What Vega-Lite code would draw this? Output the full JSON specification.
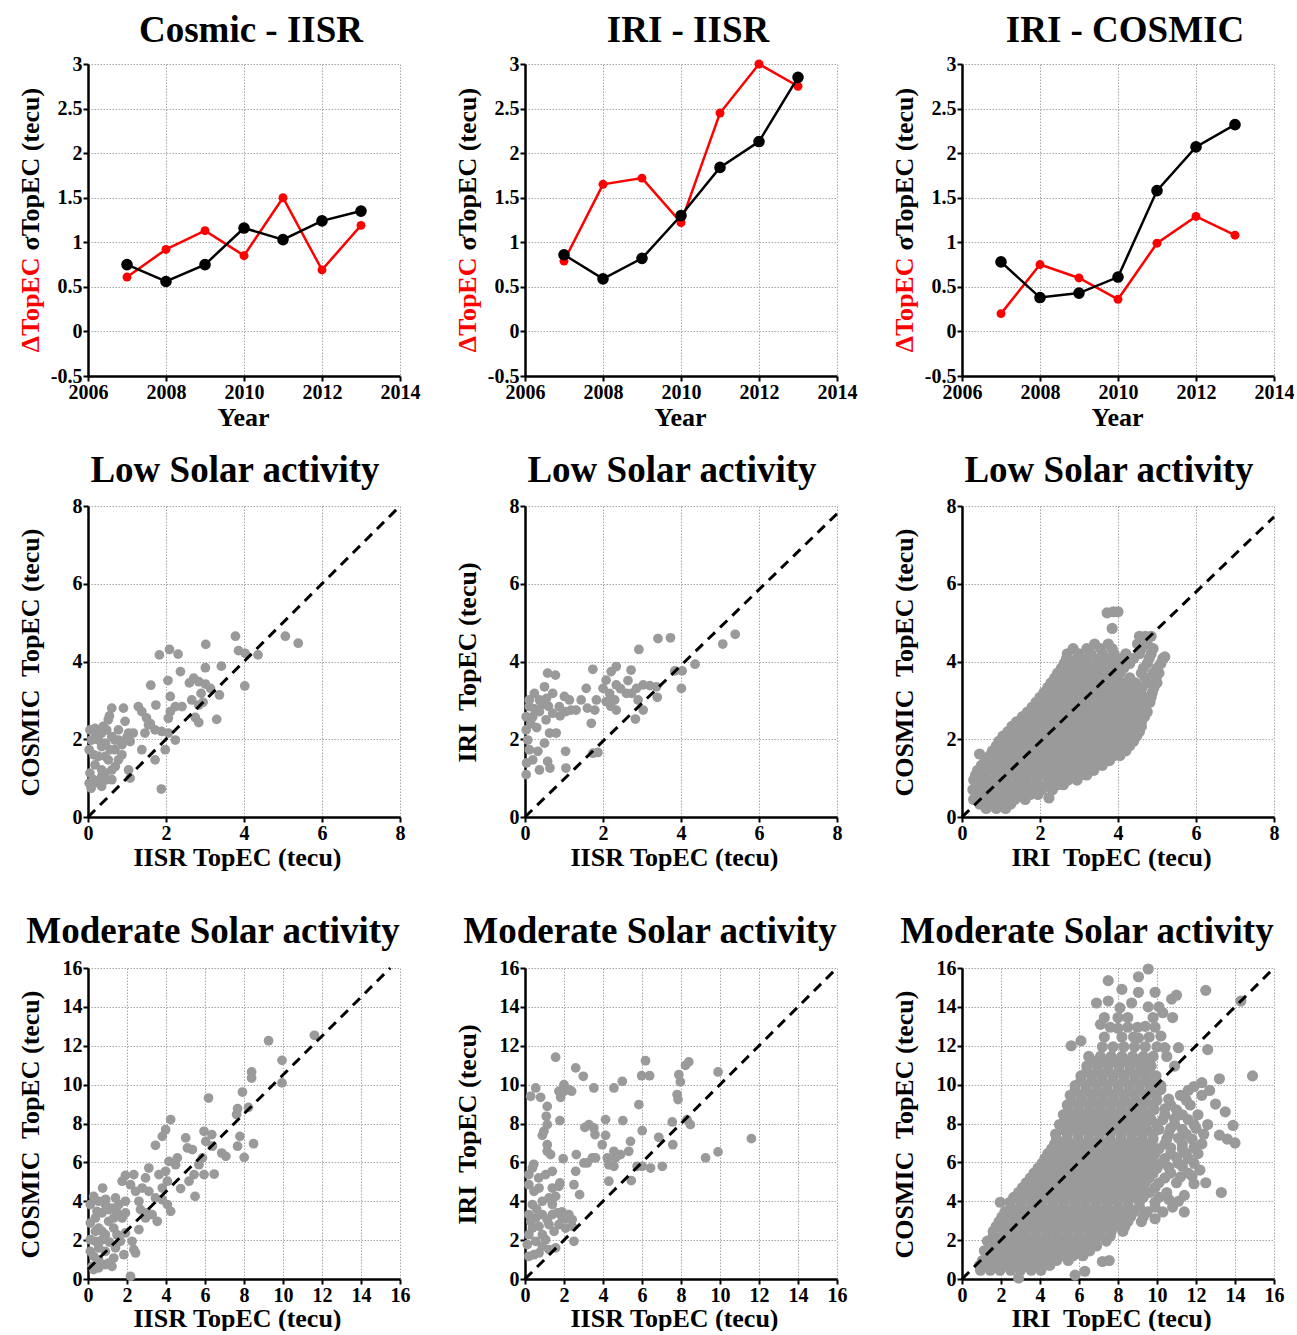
{
"$schema":"https://vega.github.io/schema/vega-lite/v6.json",
"background":"white",
"padding":{"left":16,"top":12,"right":0,"bottom":0},
"spacing":22,
"config":{
"view":{"stroke":null},
"font":"Liberation Serif",
"axis":{"labelFont":"Liberation Serif","labelFontWeight":"bold","labelFontSize":20,"labelColor":"black","labelPadding":1,"labelFlush":false,"labelOverlap":false,
"titleFont":"Liberation Serif","titleFontWeight":"bold","titleFontSize":26,"titleColor":"black",
"domainColor":"black","domainWidth":2.5,"tickColor":"black","tickWidth":2,"tickSize":5,
"gridColor":"#a8a8a8","gridDash":[1.5,1.5],"gridWidth":1},
"title":{"font":"Liberation Serif","fontWeight":"bold","fontSize":37,"color":"black","baseline":"alphabetic","frame":"group","anchor":"middle"}
},
"datasets":{
"trend":[
{"p":"CI","s":"d","yr":2007,"v":0.61},{"p":"CI","s":"d","yr":2008,"v":0.92},{"p":"CI","s":"d","yr":2009,"v":1.13},{"p":"CI","s":"d","yr":2010,"v":0.85},{"p":"CI","s":"d","yr":2011,"v":1.5},{"p":"CI","s":"d","yr":2012,"v":0.69},{"p":"CI","s":"d","yr":2013,"v":1.19},
{"p":"CI","s":"s","yr":2007,"v":0.75},{"p":"CI","s":"s","yr":2008,"v":0.56},{"p":"CI","s":"s","yr":2009,"v":0.75},{"p":"CI","s":"s","yr":2010,"v":1.16},{"p":"CI","s":"s","yr":2011,"v":1.03},{"p":"CI","s":"s","yr":2012,"v":1.24},{"p":"CI","s":"s","yr":2013,"v":1.35},
{"p":"II","s":"d","yr":2007,"v":0.79},{"p":"II","s":"d","yr":2008,"v":1.65},{"p":"II","s":"d","yr":2009,"v":1.72},{"p":"II","s":"d","yr":2010,"v":1.22},{"p":"II","s":"d","yr":2011,"v":2.45},{"p":"II","s":"d","yr":2012,"v":3.0},{"p":"II","s":"d","yr":2013,"v":2.75},
{"p":"II","s":"s","yr":2007,"v":0.86},{"p":"II","s":"s","yr":2008,"v":0.59},{"p":"II","s":"s","yr":2009,"v":0.82},{"p":"II","s":"s","yr":2010,"v":1.3},{"p":"II","s":"s","yr":2011,"v":1.84},{"p":"II","s":"s","yr":2012,"v":2.13},{"p":"II","s":"s","yr":2013,"v":2.85},
{"p":"IC","s":"d","yr":2007,"v":0.2},{"p":"IC","s":"d","yr":2008,"v":0.75},{"p":"IC","s":"d","yr":2009,"v":0.6},{"p":"IC","s":"d","yr":2010,"v":0.36},{"p":"IC","s":"d","yr":2011,"v":0.99},{"p":"IC","s":"d","yr":2012,"v":1.29},{"p":"IC","s":"d","yr":2013,"v":1.08},
{"p":"IC","s":"s","yr":2007,"v":0.78},{"p":"IC","s":"s","yr":2008,"v":0.38},{"p":"IC","s":"s","yr":2009,"v":0.43},{"p":"IC","s":"s","yr":2010,"v":0.61},{"p":"IC","s":"s","yr":2011,"v":1.58},{"p":"IC","s":"s","yr":2012,"v":2.07},{"p":"IC","s":"s","yr":2013,"v":2.32}
],
"lowA":[
{"x":5.06,"y":4.65},{"x":5.39,"y":4.47},{"x":3.78,"y":4.65},{"x":3.86,"y":4.28},{"x":4.03,"y":4.21},{"x":4.36,"y":4.17},{"x":4.02,"y":3.37},{"x":3.02,"y":4.44},{"x":2.09,"y":4.31},{"x":2.31,"y":4.19},{"x":1.83,"y":4.17},{"x":2.37,"y":3.74},{"x":2.05,"y":3.51},{"x":1.61,"y":3.39},{"x":3.01,"y":3.84},{"x":3.42,"y":3.88},{"x":2.71,"y":3.57},{"x":2.84,"y":3.48},{"x":3.01,"y":3.42},{"x":3.14,"y":3.31},{"x":3.37,"y":3.14},{"x":2.9,"y":3.18},{"x":2.66,"y":3.01},{"x":2.84,"y":2.88},{"x":2.11,"y":3.1},{"x":3.3,"y":2.51},{"x":2.75,"y":2.56},{"x":2.84,"y":2.43},{"x":2.41,"y":2.84},{"x":2.24,"y":2.84},{"x":2.11,"y":2.71},{"x":2.06,"y":2.54},{"x":1.74,"y":2.88},{"x":1.29,"y":2.84},{"x":1.38,"y":2.71},{"x":1.55,"y":2.37},{"x":1.46,"y":2.16},{"x":1.72,"y":2.24},{"x":1.89,"y":2.2},{"x":2.06,"y":2.16},{"x":2.24,"y":1.98},{"x":1.98,"y":1.73},{"x":1.72,"y":1.47},{"x":1.38,"y":1.73},{"x":1.88,"y":0.72},{"x":1.04,"y":1.21},{"x":1.08,"y":1.0},{"x":0.61,"y":2.8},{"x":0.91,"y":2.8},{"x":0.95,"y":2.46},{"x":0.78,"y":2.24},{"x":1.04,"y":2.16},{"x":1.08,"y":1.94},{"x":0.69,"y":1.98},{"x":0.57,"y":1.73},{"x":0.52,"y":1.47},{"x":0.78,"y":1.47},{"x":0.35,"y":2.16},{"x":0.18,"y":2.28},{"x":0.05,"y":2.24},{"x":0.09,"y":1.98},{"x":0.03,"y":1.73},{"x":0.35,"y":1.81},{"x":0.44,"y":1.56},{"x":0.35,"y":1.21},{"x":0.18,"y":1.34},{"x":0.05,"y":1.13},{"x":0.03,"y":0.87},{"x":0.08,"y":0.74},{"x":0.27,"y":0.87},{"x":0.35,"y":0.79},{"x":0.48,"y":0.96},{"x":0.61,"y":0.96},{"x":0.61,"y":1.21},{"x":0.52,"y":2.5},{"x":0.48,"y":2.24},{"x":0.69,"y":1.73},{"x":0.87,"y":1.86},{"x":1.16,"y":2.16},{"x":0.61,"y":2.07},{"x":0.27,"y":1.98},{"x":0.39,"y":2.33},{"x":0.78,"y":1.98},{"x":0.27,"y":1.56},{"x":0.44,"y":1.13},{"x":0.87,"y":1.6},{"x":0.35,"y":1.04},{"x":0.14,"y":0.96},{"x":0.55,"y":2.6},{"x":0.2,"y":2.1},{"x":0.45,"y":1.9},{"x":0.7,"y":1.3},{"x":0.15,"y":1.6},{"x":1.6,"y":2.4},{"x":1.5,"y":2.55},{"x":2.6,"y":3.45},{"x":2.95,"y":2.95},{"x":1.0,"y":2.05}
],
"lowB":[
{"x":5.39,"y":4.7},{"x":5.07,"y":4.45},{"x":3.41,"y":4.59},{"x":3.73,"y":4.61},{"x":2.92,"y":4.31},{"x":4.36,"y":3.93},{"x":3.84,"y":3.76},{"x":4.03,"y":3.76},{"x":4.01,"y":3.31},{"x":3.39,"y":3.08},{"x":3.03,"y":2.75},{"x":2.83,"y":2.52},{"x":2.72,"y":3.78},{"x":2.64,"y":3.51},{"x":2.73,"y":3.18},{"x":2.9,"y":3.01},{"x":3.03,"y":3.4},{"x":3.2,"y":3.38},{"x":3.37,"y":3.35},{"x":2.86,"y":3.31},{"x":2.34,"y":3.87},{"x":2.21,"y":3.74},{"x":2.08,"y":3.52},{"x":2.0,"y":3.31},{"x":2.17,"y":3.18},{"x":2.3,"y":3.01},{"x":2.08,"y":2.97},{"x":2.34,"y":2.75},{"x":1.74,"y":3.8},{"x":1.57,"y":3.31},{"x":1.83,"y":3.01},{"x":1.79,"y":2.75},{"x":1.7,"y":2.41},{"x":1.31,"y":2.75},{"x":1.18,"y":2.75},{"x":1.01,"y":3.1},{"x":0.88,"y":2.84},{"x":0.71,"y":3.18},{"x":0.58,"y":3.7},{"x":0.5,"y":3.35},{"x":0.37,"y":3.01},{"x":0.11,"y":2.84},{"x":0.03,"y":2.58},{"x":0.2,"y":2.58},{"x":0.37,"y":2.71},{"x":0.54,"y":2.5},{"x":0.71,"y":2.67},{"x":0.8,"y":2.16},{"x":0.63,"y":2.16},{"x":0.5,"y":1.9},{"x":0.33,"y":1.69},{"x":0.11,"y":1.73},{"x":0.03,"y":2.24},{"x":0.07,"y":1.98},{"x":0.04,"y":1.39},{"x":0.03,"y":1.09},{"x":0.2,"y":1.47},{"x":0.37,"y":1.21},{"x":0.58,"y":1.43},{"x":0.64,"y":1.26},{"x":1.04,"y":1.69},{"x":1.05,"y":1.26},{"x":1.74,"y":1.64},{"x":1.87,"y":1.66},{"x":0.78,"y":3.65},{"x":0.11,"y":3.01},{"x":0.24,"y":3.18},{"x":1.14,"y":3.01},{"x":1.05,"y":2.71},{"x":1.44,"y":3.01},{"x":2.34,"y":3.4},{"x":2.6,"y":3.18},{"x":0.45,"y":2.9},{"x":0.6,"y":2.85},{"x":0.25,"y":2.78},{"x":0.9,"y":2.6},{"x":1.6,"y":2.8},{"x":2.2,"y":2.85},{"x":2.45,"y":3.3},{"x":0.15,"y":2.4},{"x":0.3,"y":2.3},{"x":0.55,"y":3.05}
],
"lowC":[
{"x":0.62,"y":0.22},{"x":0.88,"y":0.22},{"x":1.12,"y":0.22},
{"x":0.45,"y":0.33},{"x":0.72,"y":0.33},{"x":0.98,"y":0.33},{"x":1.25,"y":0.33},
{"x":0.3,"y":0.45},{"x":0.55,"y":0.45},{"x":0.82,"y":0.45},{"x":1.08,"y":0.45},{"x":1.35,"y":0.45},{"x":1.62,"y":0.45},
{"x":0.42,"y":0.58},{"x":0.68,"y":0.58},{"x":0.95,"y":0.58},{"x":1.2,"y":0.58},{"x":1.48,"y":0.58},{"x":1.75,"y":0.58},{"x":1.95,"y":0.58},
{"x":0.28,"y":0.7},{"x":0.5,"y":0.7},{"x":0.75,"y":0.7},{"x":1.0,"y":0.7},{"x":1.27,"y":0.7},{"x":1.52,"y":0.7},{"x":1.8,"y":0.7},{"x":2.05,"y":0.7},{"x":2.32,"y":0.7},
{"x":0.38,"y":0.83},{"x":0.62,"y":0.83},{"x":0.88,"y":0.83},{"x":1.15,"y":0.83},{"x":1.4,"y":0.83},{"x":1.66,"y":0.83},{"x":1.92,"y":0.83},{"x":2.18,"y":0.83},{"x":2.45,"y":0.83},{"x":2.6,"y":0.83},
{"x":0.3,"y":0.95},{"x":0.58,"y":0.95},{"x":0.85,"y":0.95},{"x":1.12,"y":0.95},{"x":1.4,"y":0.95},{"x":1.65,"y":0.95},{"x":1.92,"y":0.95},{"x":2.2,"y":0.95},{"x":2.45,"y":0.95},{"x":2.72,"y":0.95},{"x":2.95,"y":0.95},
{"x":0.35,"y":1.08},{"x":0.62,"y":1.08},{"x":0.9,"y":1.08},{"x":1.18,"y":1.08},{"x":1.45,"y":1.08},{"x":1.72,"y":1.08},{"x":1.98,"y":1.08},{"x":2.25,"y":1.08},{"x":2.52,"y":1.08},{"x":2.78,"y":1.08},{"x":3.05,"y":1.08},{"x":3.2,"y":1.08},
{"x":0.4,"y":1.2},{"x":0.68,"y":1.2},{"x":0.95,"y":1.2},{"x":1.22,"y":1.2},{"x":1.5,"y":1.2},{"x":1.78,"y":1.2},{"x":2.05,"y":1.2},{"x":2.3,"y":1.2},{"x":2.58,"y":1.2},{"x":2.85,"y":1.2},{"x":3.1,"y":1.2},{"x":3.38,"y":1.2},
{"x":0.5,"y":1.33},{"x":0.78,"y":1.33},{"x":1.05,"y":1.33},{"x":1.32,"y":1.33},{"x":1.6,"y":1.33},{"x":1.85,"y":1.33},{"x":2.12,"y":1.33},{"x":2.4,"y":1.33},{"x":2.65,"y":1.33},{"x":2.92,"y":1.33},{"x":3.2,"y":1.33},{"x":3.45,"y":1.33},{"x":3.6,"y":1.33},
{"x":0.6,"y":1.45},{"x":0.85,"y":1.45},{"x":1.1,"y":1.45},{"x":1.38,"y":1.45},{"x":1.65,"y":1.45},{"x":1.92,"y":1.45},{"x":2.18,"y":1.45},{"x":2.45,"y":1.45},{"x":2.72,"y":1.45},{"x":3.0,"y":1.45},{"x":3.25,"y":1.45},{"x":3.52,"y":1.45},{"x":3.78,"y":1.45},
{"x":0.72,"y":1.58},{"x":0.98,"y":1.58},{"x":1.25,"y":1.58},{"x":1.52,"y":1.58},{"x":1.78,"y":1.58},{"x":2.05,"y":1.58},{"x":2.32,"y":1.58},{"x":2.58,"y":1.58},{"x":2.85,"y":1.58},{"x":3.12,"y":1.58},{"x":3.38,"y":1.58},{"x":3.65,"y":1.58},{"x":3.9,"y":1.58},{"x":4.05,"y":1.58},
{"x":0.78,"y":1.7},{"x":1.05,"y":1.7},{"x":1.3,"y":1.7},{"x":1.58,"y":1.7},{"x":1.85,"y":1.7},{"x":2.1,"y":1.7},{"x":2.38,"y":1.7},{"x":2.65,"y":1.7},{"x":2.92,"y":1.7},{"x":3.18,"y":1.7},{"x":3.45,"y":1.7},{"x":3.72,"y":1.7},{"x":3.98,"y":1.7},{"x":4.2,"y":1.7},
{"x":0.88,"y":1.83},{"x":1.12,"y":1.83},{"x":1.4,"y":1.83},{"x":1.68,"y":1.83},{"x":1.95,"y":1.83},{"x":2.22,"y":1.83},{"x":2.48,"y":1.83},{"x":2.75,"y":1.83},{"x":3.02,"y":1.83},{"x":3.28,"y":1.83},{"x":3.55,"y":1.83},{"x":3.82,"y":1.83},{"x":4.08,"y":1.83},{"x":4.3,"y":1.83},
{"x":0.95,"y":1.95},{"x":1.2,"y":1.95},{"x":1.48,"y":1.95},{"x":1.75,"y":1.95},{"x":2.02,"y":1.95},{"x":2.28,"y":1.95},{"x":2.55,"y":1.95},{"x":2.82,"y":1.95},{"x":3.08,"y":1.95},{"x":3.35,"y":1.95},{"x":3.62,"y":1.95},{"x":3.88,"y":1.95},{"x":4.15,"y":1.95},{"x":4.4,"y":1.95},
{"x":1.05,"y":2.08},{"x":1.32,"y":2.08},{"x":1.6,"y":2.08},{"x":1.85,"y":2.08},{"x":2.12,"y":2.08},{"x":2.38,"y":2.08},{"x":2.65,"y":2.08},{"x":2.92,"y":2.08},{"x":3.2,"y":2.08},{"x":3.45,"y":2.08},{"x":3.72,"y":2.08},{"x":4.0,"y":2.08},{"x":4.25,"y":2.08},{"x":4.48,"y":2.08},
{"x":1.18,"y":2.2},{"x":1.42,"y":2.2},{"x":1.7,"y":2.2},{"x":1.95,"y":2.2},{"x":2.22,"y":2.2},{"x":2.5,"y":2.2},{"x":2.75,"y":2.2},{"x":3.02,"y":2.2},{"x":3.3,"y":2.2},{"x":3.55,"y":2.2},{"x":3.82,"y":2.2},{"x":4.08,"y":2.2},{"x":4.35,"y":2.2},{"x":4.55,"y":2.2},
{"x":1.3,"y":2.33},{"x":1.55,"y":2.33},{"x":1.82,"y":2.33},{"x":2.08,"y":2.33},{"x":2.35,"y":2.33},{"x":2.62,"y":2.33},{"x":2.88,"y":2.33},{"x":3.15,"y":2.33},{"x":3.42,"y":2.33},{"x":3.68,"y":2.33},{"x":3.95,"y":2.33},{"x":4.2,"y":2.33},{"x":4.48,"y":2.33},{"x":4.6,"y":2.33},
{"x":1.4,"y":2.45},{"x":1.65,"y":2.45},{"x":1.92,"y":2.45},{"x":2.18,"y":2.45},{"x":2.45,"y":2.45},{"x":2.72,"y":2.45},{"x":2.98,"y":2.45},{"x":3.25,"y":2.45},{"x":3.52,"y":2.45},{"x":3.78,"y":2.45},{"x":4.05,"y":2.45},{"x":4.3,"y":2.45},{"x":4.6,"y":2.45},
{"x":1.55,"y":2.58},{"x":1.8,"y":2.58},{"x":2.05,"y":2.58},{"x":2.32,"y":2.58},{"x":2.58,"y":2.58},{"x":2.85,"y":2.58},{"x":3.12,"y":2.58},{"x":3.38,"y":2.58},{"x":3.65,"y":2.58},{"x":3.92,"y":2.58},{"x":4.18,"y":2.58},{"x":4.45,"y":2.58},{"x":4.68,"y":2.58},
{"x":1.68,"y":2.7},{"x":1.92,"y":2.7},{"x":2.2,"y":2.7},{"x":2.45,"y":2.7},{"x":2.72,"y":2.7},{"x":3.0,"y":2.7},{"x":3.25,"y":2.7},{"x":3.52,"y":2.7},{"x":3.78,"y":2.7},{"x":4.05,"y":2.7},{"x":4.32,"y":2.7},{"x":4.6,"y":2.7},{"x":4.75,"y":2.7},
{"x":1.8,"y":2.83},{"x":2.05,"y":2.83},{"x":2.32,"y":2.83},{"x":2.58,"y":2.83},{"x":2.85,"y":2.83},{"x":3.1,"y":2.83},{"x":3.38,"y":2.83},{"x":3.65,"y":2.83},{"x":3.9,"y":2.83},{"x":4.18,"y":2.83},{"x":4.45,"y":2.83},{"x":4.7,"y":2.83},
{"x":1.9,"y":2.95},{"x":2.15,"y":2.95},{"x":2.42,"y":2.95},{"x":2.7,"y":2.95},{"x":2.95,"y":2.95},{"x":3.22,"y":2.95},{"x":3.5,"y":2.95},{"x":3.75,"y":2.95},{"x":4.02,"y":2.95},{"x":4.28,"y":2.95},{"x":4.55,"y":2.95},{"x":4.82,"y":2.95},
{"x":2.0,"y":3.08},{"x":2.28,"y":3.08},{"x":2.55,"y":3.08},{"x":2.8,"y":3.08},{"x":3.08,"y":3.08},{"x":3.35,"y":3.08},{"x":3.6,"y":3.08},{"x":3.88,"y":3.08},{"x":4.15,"y":3.08},{"x":4.4,"y":3.08},{"x":4.7,"y":3.08},{"x":4.85,"y":3.08},
{"x":2.1,"y":3.2},{"x":2.38,"y":3.2},{"x":2.65,"y":3.2},{"x":2.9,"y":3.2},{"x":3.18,"y":3.2},{"x":3.45,"y":3.2},{"x":3.72,"y":3.2},{"x":3.98,"y":3.2},{"x":4.25,"y":3.2},{"x":4.52,"y":3.2},{"x":4.88,"y":3.2},
{"x":2.2,"y":3.33},{"x":2.48,"y":3.33},{"x":2.72,"y":3.33},{"x":3.0,"y":3.33},{"x":3.25,"y":3.33},{"x":3.52,"y":3.33},{"x":3.8,"y":3.33},{"x":4.05,"y":3.33},{"x":4.32,"y":3.33},{"x":4.62,"y":3.33},{"x":4.92,"y":3.33},
{"x":2.28,"y":3.45},{"x":2.55,"y":3.45},{"x":2.82,"y":3.45},{"x":3.08,"y":3.45},{"x":3.35,"y":3.45},{"x":3.62,"y":3.45},{"x":3.9,"y":3.45},{"x":4.15,"y":3.45},{"x":4.45,"y":3.45},{"x":4.75,"y":3.45},{"x":5.0,"y":3.45},
{"x":2.38,"y":3.58},{"x":2.65,"y":3.58},{"x":2.92,"y":3.58},{"x":3.18,"y":3.58},{"x":3.45,"y":3.58},{"x":3.72,"y":3.58},{"x":3.98,"y":3.58},{"x":4.3,"y":3.58},{"x":4.7,"y":3.58},{"x":4.98,"y":3.58},
{"x":2.45,"y":3.7},{"x":2.72,"y":3.7},{"x":3.0,"y":3.7},{"x":3.25,"y":3.7},{"x":3.52,"y":3.7},{"x":3.8,"y":3.7},{"x":4.05,"y":3.7},{"x":4.6,"y":3.7},{"x":4.9,"y":3.7},{"x":5.05,"y":3.7},
{"x":2.55,"y":3.83},{"x":2.82,"y":3.83},{"x":3.08,"y":3.83},{"x":3.35,"y":3.83},{"x":3.62,"y":3.83},{"x":3.88,"y":3.83},{"x":4.15,"y":3.83},{"x":4.65,"y":3.83},{"x":5.0,"y":3.83},
{"x":2.62,"y":3.95},{"x":2.9,"y":3.95},{"x":3.15,"y":3.95},{"x":3.45,"y":3.95},{"x":3.72,"y":3.95},{"x":4.0,"y":3.95},{"x":4.3,"y":3.95},{"x":4.75,"y":3.95},{"x":5.1,"y":3.95},
{"x":2.68,"y":4.08},{"x":2.95,"y":4.08},{"x":3.22,"y":4.08},{"x":3.52,"y":4.08},{"x":3.8,"y":4.08},{"x":4.1,"y":4.08},{"x":4.4,"y":4.08},{"x":4.8,"y":4.08},{"x":5.15,"y":4.08},
{"x":2.7,"y":4.2},{"x":3.0,"y":4.2},{"x":3.3,"y":4.2},{"x":3.6,"y":4.2},{"x":3.9,"y":4.2},{"x":4.2,"y":4.2},{"x":4.55,"y":4.2},{"x":4.85,"y":4.2},{"x":5.2,"y":4.12},
{"x":2.85,"y":4.33},{"x":3.2,"y":4.33},{"x":3.55,"y":4.33},{"x":3.85,"y":4.33},{"x":4.6,"y":4.33},{"x":4.9,"y":4.33},
{"x":3.4,"y":4.45},{"x":3.75,"y":4.45},{"x":4.5,"y":4.45},{"x":4.75,"y":4.45},
{"x":4.55,"y":4.65},{"x":4.7,"y":4.65},{"x":4.85,"y":4.65},
{"x":3.72,"y":5.25},{"x":3.88,"y":5.28},{"x":4.0,"y":5.28},{"x":3.85,"y":4.85},{"x":0.45,"y":1.62},{"x":1.28,"y":2.33},{"x":2.23,"y":0.49}
],
"modA":[
{"x":11.61,"y":12.54},{"x":9.26,"y":12.26},{"x":9.95,"y":11.25},{"x":9.95,"y":10.09},{"x":8.39,"y":10.65},{"x":8.39,"y":10.34},{"x":7.92,"y":9.62},{"x":6.18,"y":9.31},{"x":7.67,"y":8.76},{"x":7.62,"y":8.46},{"x":8.23,"y":8.83},{"x":7.79,"y":7.34},{"x":7.67,"y":6.83},{"x":8.01,"y":6.26},{"x":8.49,"y":6.96},{"x":6.86,"y":6.48},{"x":7.07,"y":6.31},{"x":4.24,"y":8.2},{"x":3.98,"y":7.68},{"x":3.81,"y":7.34},{"x":3.46,"y":6.88},{"x":5.01,"y":7.26},{"x":5.1,"y":6.74},{"x":5.35,"y":6.66},{"x":5.95,"y":7.6},{"x":6.04,"y":7.08},{"x":6.35,"y":7.43},{"x":5.87,"y":6.23},{"x":5.69,"y":5.88},{"x":6.38,"y":6.83},{"x":5.95,"y":5.37},{"x":6.47,"y":5.4},{"x":5.44,"y":5.37},{"x":5.18,"y":5.03},{"x":5.49,"y":4.25},{"x":4.75,"y":4.65},{"x":4.58,"y":6.23},{"x":4.49,"y":5.88},{"x":4.15,"y":6.05},{"x":3.98,"y":5.54},{"x":3.64,"y":5.37},{"x":4.07,"y":5.03},{"x":3.81,"y":4.68},{"x":3.12,"y":5.71},{"x":2.95,"y":5.2},{"x":2.78,"y":4.68},{"x":3.12,"y":4.51},{"x":3.46,"y":4.17},{"x":3.81,"y":4.08},{"x":4.07,"y":3.83},{"x":4.24,"y":3.48},{"x":3.55,"y":2.97},{"x":3.04,"y":3.4},{"x":2.69,"y":3.57},{"x":2.95,"y":3.14},{"x":3.29,"y":3.31},{"x":2.35,"y":5.37},{"x":1.92,"y":5.33},{"x":1.75,"y":5.03},{"x":2.18,"y":4.85},{"x":2.44,"y":4.51},{"x":2.61,"y":4.0},{"x":2.61,"y":2.54},{"x":2.26,"y":1.94},{"x":2.35,"y":1.51},{"x":2.44,"y":1.34},{"x":2.18,"y":0.14},{"x":1.92,"y":4.0},{"x":1.58,"y":3.83},{"x":1.41,"y":4.17},{"x":1.92,"y":3.4},{"x":1.75,"y":3.14},{"x":1.32,"y":2.62},{"x":1.92,"y":2.37},{"x":1.66,"y":1.94},{"x":1.41,"y":1.6},{"x":1.84,"y":1.25},{"x":1.32,"y":1.08},{"x":1.06,"y":0.82},{"x":1.23,"y":0.65},{"x":0.75,"y":4.68},{"x":0.29,"y":4.25},{"x":0.12,"y":3.83},{"x":0.55,"y":4.0},{"x":0.89,"y":3.83},{"x":1.23,"y":3.65},{"x":0.72,"y":3.4},{"x":0.38,"y":3.14},{"x":0.12,"y":2.88},{"x":0.55,"y":2.62},{"x":1.06,"y":2.97},{"x":0.89,"y":2.28},{"x":0.38,"y":1.94},{"x":0.12,"y":2.02},{"x":0.55,"y":1.6},{"x":0.89,"y":1.42},{"x":0.29,"y":1.17},{"x":0.12,"y":1.42},{"x":0.55,"y":0.99},{"x":0.21,"y":0.65},{"x":0.55,"y":0.57},{"x":0.89,"y":0.74},{"x":0.29,"y":0.48},{"x":0.72,"y":2.45},{"x":0.46,"y":3.48},{"x":1.06,"y":3.57},{"x":1.32,"y":3.14},{"x":1.49,"y":2.28},{"x":0.38,"y":2.45},{"x":1.1,"y":1.9},{"x":0.7,"y":2.0},{"x":1.5,"y":3.4},{"x":0.9,"y":4.1}
],
"modB":[
{"x":11.61,"y":7.22},{"x":9.26,"y":6.23},{"x":9.9,"y":6.54},{"x":9.9,"y":10.65},{"x":8.4,"y":11.17},{"x":8.23,"y":10.99},{"x":7.89,"y":10.51},{"x":7.97,"y":10.14},{"x":7.8,"y":9.49},{"x":7.85,"y":9.23},{"x":8.31,"y":8.2},{"x":8.48,"y":7.94},{"x":7.55,"y":8.08},{"x":7.58,"y":6.91},{"x":6.86,"y":7.29},{"x":7.04,"y":5.8},{"x":6.18,"y":11.23},{"x":5.98,"y":10.46},{"x":6.39,"y":10.46},{"x":5.84,"y":8.97},{"x":6.01,"y":7.63},{"x":5.75,"y":5.8},{"x":6.01,"y":5.8},{"x":6.44,"y":5.71},{"x":5.41,"y":7.08},{"x":5.32,"y":6.57},{"x":5.45,"y":5.06},{"x":4.99,"y":10.17},{"x":5.02,"y":8.15},{"x":4.56,"y":9.83},{"x":4.13,"y":8.2},{"x":4.13,"y":7.39},{"x":3.96,"y":6.91},{"x":4.22,"y":6.23},{"x":4.56,"y":6.57},{"x":4.64,"y":6.23},{"x":4.9,"y":6.4},{"x":4.3,"y":5.88},{"x":4.56,"y":5.8},{"x":4.3,"y":5.03},{"x":3.53,"y":9.83},{"x":3.07,"y":7.8},{"x":3.28,"y":7.94},{"x":3.53,"y":7.77},{"x":3.59,"y":7.43},{"x":3.45,"y":6.23},{"x":3.19,"y":5.97},{"x":3.62,"y":6.23},{"x":3.02,"y":5.97},{"x":2.6,"y":10.86},{"x":2.99,"y":10.43},{"x":2.63,"y":6.4},{"x":2.6,"y":5.54},{"x":2.51,"y":4.85},{"x":2.8,"y":4.34},{"x":2.51,"y":1.94},{"x":2.0,"y":9.66},{"x":1.74,"y":9.66},{"x":2.0,"y":10.0},{"x":2.25,"y":9.74},{"x":1.83,"y":9.35},{"x":2.39,"y":9.66},{"x":1.57,"y":11.41},{"x":1.79,"y":8.15},{"x":1.96,"y":6.19},{"x":1.79,"y":4.94},{"x":1.74,"y":4.77},{"x":1.4,"y":5.54},{"x":1.31,"y":6.4},{"x":1.14,"y":6.57},{"x":1.09,"y":8.37},{"x":1.14,"y":8.88},{"x":1.14,"y":7.94},{"x":0.97,"y":7.6},{"x":0.89,"y":7.39},{"x":1.14,"y":6.91},{"x":0.55,"y":9.83},{"x":0.29,"y":9.4},{"x":0.8,"y":9.35},{"x":0.2,"y":5.37},{"x":0.38,"y":5.71},{"x":0.2,"y":4.85},{"x":0.46,"y":4.51},{"x":0.72,"y":4.68},{"x":1.06,"y":5.37},{"x":1.4,"y":4.68},{"x":1.23,"y":4.17},{"x":0.89,"y":4.0},{"x":1.57,"y":4.25},{"x":1.4,"y":3.83},{"x":0.38,"y":3.83},{"x":0.2,"y":3.31},{"x":0.55,"y":3.14},{"x":0.89,"y":3.31},{"x":1.14,"y":3.05},{"x":1.4,"y":3.31},{"x":1.66,"y":3.4},{"x":1.91,"y":3.14},{"x":2.25,"y":3.31},{"x":2.42,"y":3.05},{"x":1.74,"y":2.8},{"x":2.08,"y":2.62},{"x":2.42,"y":2.71},{"x":1.49,"y":2.45},{"x":0.38,"y":2.62},{"x":0.2,"y":2.28},{"x":0.55,"y":1.94},{"x":0.12,"y":1.77},{"x":0.2,"y":1.17},{"x":0.46,"y":1.25},{"x":0.89,"y":1.68},{"x":1.06,"y":2.02},{"x":1.23,"y":1.51},{"x":1.57,"y":1.6},{"x":0.72,"y":1.34},{"x":0.89,"y":2.28},{"x":1.23,"y":2.8},{"x":0.72,"y":2.71},{"x":0.6,"y":3.6},{"x":0.3,"y":2.95},{"x":1.9,"y":3.45},{"x":2.1,"y":3.1},{"x":0.7,"y":5.2},{"x":0.45,"y":5.9}
],
"modC":[
{"x":0.95,"y":0.45},{"x":1.45,"y":0.45},{"x":1.95,"y":0.45},{"x":2.5,"y":0.45},{"x":3.0,"y":0.45},{"x":3.55,"y":0.45},{"x":4.05,"y":0.45},{"x":2.9,"y":0.05},{"x":5.8,"y":0.2},{"x":6.3,"y":0.4},{"x":0.9,"y":0.7},
{"x":1.2,"y":0.7},{"x":1.75,"y":0.7},{"x":2.3,"y":0.7},{"x":2.85,"y":0.7},{"x":3.4,"y":0.7},{"x":3.95,"y":0.7},{"x":4.5,"y":0.7},
{"x":1.05,"y":0.95},{"x":1.55,"y":0.95},{"x":2.1,"y":0.95},{"x":2.65,"y":0.95},{"x":3.2,"y":0.95},{"x":3.75,"y":0.95},{"x":4.3,"y":0.95},{"x":4.85,"y":0.95},{"x":5.45,"y":0.95},{"x":7.2,"y":0.9},{"x":7.55,"y":0.95},
{"x":1.3,"y":1.2},{"x":1.85,"y":1.2},{"x":2.4,"y":1.2},{"x":2.95,"y":1.2},{"x":3.5,"y":1.2},{"x":4.05,"y":1.2},{"x":4.6,"y":1.2},{"x":5.15,"y":1.2},{"x":5.7,"y":1.2},{"x":6.2,"y":1.2},
{"x":1.15,"y":1.45},{"x":1.65,"y":1.45},{"x":2.2,"y":1.45},{"x":2.75,"y":1.45},{"x":3.3,"y":1.45},{"x":3.85,"y":1.45},{"x":4.4,"y":1.45},{"x":4.95,"y":1.45},{"x":5.5,"y":1.45},{"x":6.05,"y":1.45},{"x":6.55,"y":1.45},
{"x":1.45,"y":1.7},{"x":2.0,"y":1.7},{"x":2.55,"y":1.7},{"x":3.1,"y":1.7},{"x":3.65,"y":1.7},{"x":4.2,"y":1.7},{"x":4.75,"y":1.7},{"x":5.3,"y":1.7},{"x":5.85,"y":1.7},{"x":6.4,"y":1.7},{"x":6.9,"y":1.7},
{"x":1.3,"y":1.95},{"x":1.85,"y":1.95},{"x":2.4,"y":1.95},{"x":2.95,"y":1.95},{"x":3.5,"y":1.95},{"x":4.05,"y":1.95},{"x":4.6,"y":1.95},{"x":5.15,"y":1.95},{"x":5.7,"y":1.95},{"x":6.25,"y":1.95},{"x":6.8,"y":1.95},{"x":7.4,"y":1.95},
{"x":1.6,"y":2.2},{"x":2.1,"y":2.2},{"x":2.65,"y":2.2},{"x":3.2,"y":2.2},{"x":3.75,"y":2.2},{"x":4.3,"y":2.2},{"x":4.85,"y":2.2},{"x":5.4,"y":2.2},{"x":5.95,"y":2.2},{"x":6.5,"y":2.2},{"x":7.05,"y":2.2},{"x":7.6,"y":2.2},
{"x":1.6,"y":2.45},{"x":2.15,"y":2.45},{"x":2.7,"y":2.45},{"x":3.25,"y":2.45},{"x":3.8,"y":2.45},{"x":4.35,"y":2.45},{"x":4.9,"y":2.45},{"x":5.45,"y":2.45},{"x":6.0,"y":2.45},{"x":6.55,"y":2.45},{"x":7.1,"y":2.45},{"x":7.65,"y":2.45},{"x":8.25,"y":2.45},
{"x":1.75,"y":2.7},{"x":2.3,"y":2.7},{"x":2.85,"y":2.7},{"x":3.4,"y":2.7},{"x":3.95,"y":2.7},{"x":4.5,"y":2.7},{"x":5.05,"y":2.7},{"x":5.6,"y":2.7},{"x":6.15,"y":2.7},{"x":6.7,"y":2.7},{"x":7.25,"y":2.7},{"x":7.8,"y":2.7},{"x":8.35,"y":2.7},
{"x":1.9,"y":2.95},{"x":2.45,"y":2.95},{"x":3.0,"y":2.95},{"x":3.55,"y":2.95},{"x":4.1,"y":2.95},{"x":4.65,"y":2.95},{"x":5.2,"y":2.95},{"x":5.75,"y":2.95},{"x":6.3,"y":2.95},{"x":6.85,"y":2.95},{"x":7.4,"y":2.95},{"x":7.95,"y":2.95},{"x":8.5,"y":2.95},{"x":9.2,"y":2.95},{"x":9.9,"y":3.1},
{"x":2.05,"y":3.2},{"x":2.6,"y":3.2},{"x":3.15,"y":3.2},{"x":3.7,"y":3.2},{"x":4.25,"y":3.2},{"x":4.8,"y":3.2},{"x":5.35,"y":3.2},{"x":5.9,"y":3.2},{"x":6.45,"y":3.2},{"x":7.0,"y":3.2},{"x":7.55,"y":3.2},{"x":8.1,"y":3.2},{"x":8.65,"y":3.2},{"x":9.3,"y":3.2},
{"x":2.2,"y":3.45},{"x":2.75,"y":3.45},{"x":3.3,"y":3.45},{"x":3.85,"y":3.45},{"x":4.4,"y":3.45},{"x":4.95,"y":3.45},{"x":5.5,"y":3.45},{"x":6.05,"y":3.45},{"x":6.6,"y":3.45},{"x":7.15,"y":3.45},{"x":7.7,"y":3.45},{"x":8.25,"y":3.45},{"x":8.8,"y":3.45},{"x":9.5,"y":3.45},{"x":10.3,"y":3.45},{"x":11.4,"y":3.45},
{"x":2.5,"y":3.7},{"x":3.05,"y":3.7},{"x":3.6,"y":3.7},{"x":4.15,"y":3.7},{"x":4.7,"y":3.7},{"x":5.25,"y":3.7},{"x":5.8,"y":3.7},{"x":6.35,"y":3.7},{"x":6.9,"y":3.7},{"x":7.45,"y":3.7},{"x":8.0,"y":3.7},{"x":8.55,"y":3.7},{"x":9.1,"y":3.7},{"x":9.9,"y":3.7},
{"x":1.96,"y":3.95},{"x":2.45,"y":3.95},{"x":3.0,"y":3.95},{"x":3.55,"y":3.95},{"x":4.1,"y":3.95},{"x":4.65,"y":3.95},{"x":5.2,"y":3.95},{"x":5.75,"y":3.95},{"x":6.3,"y":3.95},{"x":6.85,"y":3.95},{"x":7.4,"y":3.95},{"x":7.95,"y":3.95},{"x":8.5,"y":3.95},{"x":9.1,"y":3.95},{"x":9.9,"y":3.95},{"x":10.8,"y":3.7},
{"x":2.65,"y":4.2},{"x":3.2,"y":4.2},{"x":3.75,"y":4.2},{"x":4.3,"y":4.2},{"x":4.85,"y":4.2},{"x":5.4,"y":4.2},{"x":5.95,"y":4.2},{"x":6.5,"y":4.2},{"x":7.05,"y":4.2},{"x":7.6,"y":4.2},{"x":8.15,"y":4.2},{"x":8.7,"y":4.2},{"x":9.3,"y":4.2},{"x":10.1,"y":4.2},{"x":10.6,"y":4.1},{"x":11.1,"y":4.0},
{"x":2.9,"y":4.45},{"x":3.45,"y":4.45},{"x":4.0,"y":4.45},{"x":4.55,"y":4.45},{"x":5.1,"y":4.45},{"x":5.65,"y":4.45},{"x":6.2,"y":4.45},{"x":6.75,"y":4.45},{"x":7.3,"y":4.45},{"x":7.85,"y":4.45},{"x":8.4,"y":4.45},{"x":8.95,"y":4.45},{"x":9.6,"y":4.45},{"x":10.5,"y":4.45},{"x":11.4,"y":4.3},{"x":13.3,"y":4.45},
{"x":3.1,"y":4.7},{"x":3.65,"y":4.7},{"x":4.2,"y":4.7},{"x":4.75,"y":4.7},{"x":5.3,"y":4.7},{"x":5.85,"y":4.7},{"x":6.4,"y":4.7},{"x":6.95,"y":4.7},{"x":7.5,"y":4.7},{"x":8.05,"y":4.7},{"x":8.6,"y":4.7},{"x":9.2,"y":4.7},{"x":9.9,"y":4.7},
{"x":3.3,"y":4.95},{"x":3.85,"y":4.95},{"x":4.4,"y":4.95},{"x":4.95,"y":4.95},{"x":5.5,"y":4.95},{"x":6.05,"y":4.95},{"x":6.6,"y":4.95},{"x":7.15,"y":4.95},{"x":7.7,"y":4.95},{"x":8.25,"y":4.95},{"x":8.8,"y":4.95},{"x":9.4,"y":4.95},{"x":10.1,"y":4.95},{"x":11.0,"y":4.95},{"x":11.9,"y":4.9},{"x":12.5,"y":4.95},
{"x":3.5,"y":5.2},{"x":4.05,"y":5.2},{"x":4.6,"y":5.2},{"x":5.15,"y":5.2},{"x":5.7,"y":5.2},{"x":6.25,"y":5.2},{"x":6.8,"y":5.2},{"x":7.35,"y":5.2},{"x":7.9,"y":5.2},{"x":8.45,"y":5.2},{"x":9.0,"y":5.2},{"x":9.6,"y":5.2},{"x":10.4,"y":5.2},{"x":11.2,"y":5.25},{"x":11.8,"y":5.3},
{"x":3.7,"y":5.45},{"x":4.25,"y":5.45},{"x":4.8,"y":5.45},{"x":5.35,"y":5.45},{"x":5.9,"y":5.45},{"x":6.45,"y":5.45},{"x":7.0,"y":5.45},{"x":7.55,"y":5.45},{"x":8.1,"y":5.45},{"x":8.65,"y":5.45},{"x":9.2,"y":5.45},{"x":9.8,"y":5.45},{"x":10.7,"y":5.45},{"x":11.6,"y":5.45},{"x":12.2,"y":5.6},
{"x":3.9,"y":5.7},{"x":4.45,"y":5.7},{"x":5.0,"y":5.7},{"x":5.55,"y":5.7},{"x":6.1,"y":5.7},{"x":6.65,"y":5.7},{"x":7.2,"y":5.7},{"x":7.75,"y":5.7},{"x":8.3,"y":5.7},{"x":8.85,"y":5.7},{"x":9.4,"y":5.7},{"x":10.0,"y":5.7},{"x":10.6,"y":5.75},{"x":11.3,"y":5.8},
{"x":4.1,"y":5.95},{"x":4.65,"y":5.95},{"x":5.2,"y":5.95},{"x":5.75,"y":5.95},{"x":6.3,"y":5.95},{"x":6.85,"y":5.95},{"x":7.4,"y":5.95},{"x":7.95,"y":5.95},{"x":8.5,"y":5.95},{"x":9.05,"y":5.95},{"x":9.6,"y":5.95},{"x":10.2,"y":5.95},{"x":11.1,"y":5.95},{"x":11.9,"y":5.95},
{"x":4.25,"y":6.2},{"x":4.8,"y":6.2},{"x":5.35,"y":6.2},{"x":5.9,"y":6.2},{"x":6.45,"y":6.2},{"x":7.0,"y":6.2},{"x":7.55,"y":6.2},{"x":8.1,"y":6.2},{"x":8.65,"y":6.2},{"x":9.2,"y":6.2},{"x":9.75,"y":6.2},{"x":10.4,"y":6.2},{"x":11.0,"y":6.25},{"x":11.6,"y":6.2},
{"x":4.4,"y":6.45},{"x":4.95,"y":6.45},{"x":5.5,"y":6.45},{"x":6.05,"y":6.45},{"x":6.6,"y":6.45},{"x":7.15,"y":6.45},{"x":7.7,"y":6.45},{"x":8.25,"y":6.45},{"x":8.8,"y":6.45},{"x":9.35,"y":6.45},{"x":9.9,"y":6.45},{"x":10.7,"y":6.45},{"x":11.5,"y":6.45},{"x":12.1,"y":6.45},
{"x":4.6,"y":6.7},{"x":5.15,"y":6.7},{"x":5.7,"y":6.7},{"x":6.25,"y":6.7},{"x":6.8,"y":6.7},{"x":7.35,"y":6.7},{"x":7.9,"y":6.7},{"x":8.45,"y":6.7},{"x":9.0,"y":6.7},{"x":9.55,"y":6.7},{"x":10.1,"y":6.7},{"x":10.7,"y":6.75},{"x":11.3,"y":6.7},{"x":11.9,"y":6.75},
{"x":4.75,"y":6.95},{"x":5.3,"y":6.95},{"x":5.85,"y":6.95},{"x":6.4,"y":6.95},{"x":6.95,"y":6.95},{"x":7.5,"y":6.95},{"x":8.05,"y":6.95},{"x":8.6,"y":6.95},{"x":9.15,"y":6.95},{"x":9.7,"y":6.95},{"x":10.4,"y":6.95},{"x":11.3,"y":6.95},{"x":12.3,"y":6.95},{"x":14.0,"y":7.0},
{"x":4.85,"y":7.2},{"x":5.4,"y":7.2},{"x":5.95,"y":7.2},{"x":6.5,"y":7.2},{"x":7.05,"y":7.2},{"x":7.6,"y":7.2},{"x":8.15,"y":7.2},{"x":8.7,"y":7.2},{"x":9.25,"y":7.2},{"x":9.8,"y":7.2},{"x":10.5,"y":7.2},{"x":11.1,"y":7.25},{"x":11.8,"y":7.2},
{"x":4.8,"y":7.45},{"x":5.4,"y":7.45},{"x":5.95,"y":7.45},{"x":6.5,"y":7.45},{"x":7.05,"y":7.45},{"x":7.6,"y":7.45},{"x":8.15,"y":7.45},{"x":8.7,"y":7.45},{"x":9.25,"y":7.45},{"x":9.8,"y":7.45},{"x":10.6,"y":7.45},{"x":11.5,"y":7.45},{"x":12.4,"y":7.45},{"x":13.2,"y":7.4},{"x":13.6,"y":7.2},
{"x":5.1,"y":7.7},{"x":5.65,"y":7.7},{"x":6.2,"y":7.7},{"x":6.75,"y":7.7},{"x":7.3,"y":7.7},{"x":7.85,"y":7.7},{"x":8.4,"y":7.7},{"x":8.95,"y":7.7},{"x":9.5,"y":7.7},{"x":10.1,"y":7.7},{"x":10.7,"y":7.75},{"x":11.3,"y":7.7},{"x":12.0,"y":7.75},
{"x":5.0,"y":7.95},{"x":5.55,"y":7.95},{"x":6.1,"y":7.95},{"x":6.65,"y":7.95},{"x":7.2,"y":7.95},{"x":7.75,"y":7.95},{"x":8.3,"y":7.95},{"x":8.85,"y":7.95},{"x":9.4,"y":7.95},{"x":10.0,"y":7.95},{"x":10.9,"y":7.95},{"x":11.9,"y":7.95},{"x":12.6,"y":7.95},{"x":13.9,"y":7.9},
{"x":5.3,"y":8.2},{"x":5.85,"y":8.2},{"x":6.4,"y":8.2},{"x":6.95,"y":8.2},{"x":7.5,"y":8.2},{"x":8.05,"y":8.2},{"x":8.6,"y":8.2},{"x":9.15,"y":8.2},{"x":9.7,"y":8.2},{"x":10.3,"y":8.2},{"x":10.9,"y":8.25},{"x":11.6,"y":8.2},
{"x":5.2,"y":8.45},{"x":5.75,"y":8.45},{"x":6.3,"y":8.45},{"x":6.85,"y":8.45},{"x":7.4,"y":8.45},{"x":7.95,"y":8.45},{"x":8.5,"y":8.45},{"x":9.05,"y":8.45},{"x":9.6,"y":8.45},{"x":10.4,"y":8.45},{"x":11.3,"y":8.45},{"x":12.1,"y":8.45},{"x":13.5,"y":8.6},
{"x":5.45,"y":8.7},{"x":6.0,"y":8.7},{"x":6.55,"y":8.7},{"x":7.1,"y":8.7},{"x":7.65,"y":8.7},{"x":8.2,"y":8.7},{"x":8.75,"y":8.7},{"x":9.3,"y":8.7},{"x":9.85,"y":8.7},{"x":10.4,"y":8.75},{"x":11.0,"y":8.7},
{"x":5.4,"y":8.95},{"x":5.95,"y":8.95},{"x":6.5,"y":8.95},{"x":7.05,"y":8.95},{"x":7.6,"y":8.95},{"x":8.15,"y":8.95},{"x":8.7,"y":8.95},{"x":9.25,"y":8.95},{"x":9.8,"y":8.95},{"x":10.7,"y":8.95},{"x":11.7,"y":8.95},{"x":13.0,"y":9.0},
{"x":5.6,"y":9.2},{"x":6.15,"y":9.2},{"x":6.7,"y":9.2},{"x":7.25,"y":9.2},{"x":7.8,"y":9.2},{"x":8.35,"y":9.2},{"x":8.9,"y":9.2},{"x":9.45,"y":9.2},{"x":10.0,"y":9.2},{"x":10.6,"y":9.25},{"x":11.5,"y":9.2},
{"x":5.55,"y":9.45},{"x":6.1,"y":9.45},{"x":6.65,"y":9.45},{"x":7.2,"y":9.45},{"x":7.75,"y":9.45},{"x":8.3,"y":9.45},{"x":8.85,"y":9.45},{"x":9.4,"y":9.45},{"x":9.95,"y":9.45},{"x":11.2,"y":9.45},{"x":12.3,"y":9.45},
{"x":5.8,"y":9.7},{"x":6.35,"y":9.7},{"x":6.9,"y":9.7},{"x":7.45,"y":9.7},{"x":8.0,"y":9.7},{"x":8.55,"y":9.7},{"x":9.1,"y":9.7},{"x":9.65,"y":9.7},{"x":10.2,"y":9.75},{"x":11.6,"y":9.7},
{"x":5.8,"y":9.95},{"x":6.35,"y":9.95},{"x":6.9,"y":9.95},{"x":7.45,"y":9.95},{"x":8.0,"y":9.95},{"x":8.55,"y":9.95},{"x":9.1,"y":9.95},{"x":9.65,"y":9.95},{"x":10.2,"y":9.95},{"x":11.9,"y":9.9},{"x":12.7,"y":9.7},
{"x":6.1,"y":10.2},{"x":6.65,"y":10.2},{"x":7.2,"y":10.2},{"x":7.75,"y":10.2},{"x":8.3,"y":10.2},{"x":8.85,"y":10.2},{"x":9.4,"y":10.2},{"x":9.9,"y":10.2},
{"x":6.1,"y":10.45},{"x":6.65,"y":10.45},{"x":7.2,"y":10.45},{"x":7.75,"y":10.45},{"x":8.3,"y":10.45},{"x":8.85,"y":10.45},{"x":9.4,"y":10.45},{"x":9.95,"y":10.45},{"x":12.3,"y":10.1},{"x":13.2,"y":10.3},{"x":14.9,"y":10.45},
{"x":6.4,"y":10.7},{"x":6.95,"y":10.7},{"x":7.5,"y":10.7},{"x":8.05,"y":10.7},{"x":8.6,"y":10.7},{"x":9.15,"y":10.7},{"x":9.6,"y":10.7},
{"x":6.4,"y":10.95},{"x":6.95,"y":10.95},{"x":7.5,"y":10.95},{"x":8.05,"y":10.95},{"x":8.6,"y":10.95},{"x":9.15,"y":10.95},{"x":9.7,"y":10.95},{"x":10.9,"y":10.95},
{"x":6.8,"y":11.2},{"x":7.35,"y":11.2},{"x":7.9,"y":11.2},{"x":8.45,"y":11.2},{"x":9.0,"y":11.2},{"x":9.5,"y":11.2},
{"x":6.5,"y":11.45},{"x":7.1,"y":11.45},{"x":7.65,"y":11.45},{"x":8.2,"y":11.45},{"x":8.75,"y":11.45},{"x":9.3,"y":11.45},{"x":9.8,"y":11.45},{"x":10.5,"y":11.45},{"x":12.6,"y":11.8},
{"x":5.6,"y":12.0},{"x":6.1,"y":12.25},{"x":7.2,"y":11.95},{"x":7.75,"y":11.95},{"x":8.3,"y":11.95},{"x":8.85,"y":11.95},{"x":9.4,"y":11.95},{"x":10.0,"y":11.95},{"x":10.4,"y":11.9},{"x":11.1,"y":11.9},
{"x":7.3,"y":12.45},{"x":8.2,"y":12.45},{"x":8.8,"y":12.45},{"x":9.05,"y":12.4},{"x":9.6,"y":12.45},{"x":10.2,"y":12.5},
{"x":7.1,"y":13.1},{"x":7.6,"y":12.95},{"x":8.0,"y":12.9},{"x":8.5,"y":12.95},{"x":9.0,"y":12.95},{"x":9.4,"y":13.0},{"x":9.9,"y":12.95},
{"x":7.3,"y":13.45},{"x":8.0,"y":13.45},{"x":8.5,"y":13.45},{"x":9.8,"y":13.45},{"x":10.3,"y":13.7},{"x":10.8,"y":13.45},
{"x":6.9,"y":14.2},{"x":7.5,"y":14.3},{"x":8.1,"y":13.95},{"x":8.7,"y":14.2},{"x":9.55,"y":14.0},{"x":10.1,"y":14.0},{"x":10.75,"y":14.4},{"x":11.0,"y":14.6},{"x":14.3,"y":14.3},{"x":8.2,"y":14.9},{"x":9.05,"y":14.75},{"x":9.9,"y":14.75},{"x":12.5,"y":14.85},{"x":7.5,"y":15.35},{"x":9.05,"y":15.55},{"x":9.55,"y":15.95}
]
},
"vconcat":[
{"hconcat":[
{"width":312,"height":312,"title":{"text":"Cosmic - IISR","offset":4,"dx":7},"data":{"name":"trend"},"transform":[{"filter":"datum.p==='CI'"}],"resolve":{"axis":{"y":"independent"}},
"layer":[
{"transform":[{"filter":"datum.s==='d'"}],"mark":{"type":"line","color":"#ff0000","strokeWidth":2.5},"encoding":{"x":{"field":"yr","type":"quantitative","scale":{"domain":[2006,2014],"nice":false,"zero":false},"axis":{"values":[2006,2008,2010,2012,2014],"format":"d","title":"Year","titleX":155,"titleY":49,"titleAlign":"center","titleBaseline":"alphabetic"}},"y":{"field":"v","type":"quantitative","scale":{"domain":[-0.5,3],"nice":false,"zero":false},"axis":{"orient":"left","values":[-0.5,0,0.5,1,1.5,2,2.5,3],"format":"~g","labelExpr":"datum.value < 0 ? '-0.5' : datum.label","title":"σTopEC (tecu)","titleX":-58,"titleY":186,"titleAlign":"left","titleAngle":270,"titleBaseline":"middle"}}}},
{"transform":[{"filter":"datum.s==='d'"}],"mark":{"type":"circle","color":"#ff0000","size":80,"opacity":1},"encoding":{"x":{"field":"yr","type":"quantitative","scale":{"domain":[2006,2014],"nice":false,"zero":false},"axis":{"values":[2006,2008,2010,2012,2014],"format":"d","title":"Year","titleX":155,"titleY":49,"titleAlign":"center","titleBaseline":"alphabetic"}},"y":{"field":"v","type":"quantitative","scale":{"domain":[-0.5,3],"nice":false,"zero":false},"axis":null}}},
{"transform":[{"filter":"datum.s==='s'"}],"mark":{"type":"line","color":"black","strokeWidth":2.5},"encoding":{"x":{"field":"yr","type":"quantitative","scale":{"domain":[2006,2014],"nice":false,"zero":false},"axis":{"values":[2006,2008,2010,2012,2014],"format":"d","title":"Year","titleX":155,"titleY":49,"titleAlign":"center","titleBaseline":"alphabetic"}},"y":{"field":"v","type":"quantitative","scale":{"domain":[-0.5,3],"nice":false,"zero":false},"axis":null}}},
{"transform":[{"filter":"datum.s==='s'"}],"mark":{"type":"circle","color":"black","size":135,"opacity":1},"encoding":{"x":{"field":"yr","type":"quantitative","scale":{"domain":[2006,2014],"nice":false,"zero":false},"axis":{"values":[2006,2008,2010,2012,2014],"format":"d","title":"Year","titleX":155,"titleY":49,"titleAlign":"center","titleBaseline":"alphabetic"}},"y":{"field":"v","type":"quantitative","scale":{"domain":[-0.5,3],"nice":false,"zero":false},"axis":null}}},
{"mark":{"type":"circle","opacity":0},"encoding":{"x":{"field":"yr","type":"quantitative","scale":{"domain":[2006,2014],"nice":false,"zero":false},"axis":{"values":[2006,2008,2010,2012,2014],"format":"d","title":"Year","titleX":155,"titleY":49,"titleAlign":"center","titleBaseline":"alphabetic"}},"y":{"field":"v","type":"quantitative","scale":{"domain":[-0.5,3],"nice":false,"zero":false},"axis":{"orient":"left","labels":false,"ticks":false,"domain":false,"grid":false,"title":"ΔTopEC","titleColor":"#ff0000","titleX":-58,"titleY":193,"titleAlign":"right","titleAngle":270,"titleBaseline":"middle"}}}}
]},
{"width":312,"height":312,"title":{"text":"IRI - IISR","offset":4,"dx":7},"data":{"name":"trend"},"transform":[{"filter":"datum.p==='II'"}],"resolve":{"axis":{"y":"independent"}},
"layer":[
{"transform":[{"filter":"datum.s==='d'"}],"mark":{"type":"line","color":"#ff0000","strokeWidth":2.5},"encoding":{"x":{"field":"yr","type":"quantitative","scale":{"domain":[2006,2014],"nice":false,"zero":false},"axis":{"values":[2006,2008,2010,2012,2014],"format":"d","title":"Year","titleX":155,"titleY":49,"titleAlign":"center","titleBaseline":"alphabetic"}},"y":{"field":"v","type":"quantitative","scale":{"domain":[-0.5,3],"nice":false,"zero":false},"axis":{"orient":"left","values":[-0.5,0,0.5,1,1.5,2,2.5,3],"format":"~g","labelExpr":"datum.value < 0 ? '-0.5' : datum.label","title":"σTopEC (tecu)","titleX":-58,"titleY":186,"titleAlign":"left","titleAngle":270,"titleBaseline":"middle"}}}},
{"transform":[{"filter":"datum.s==='d'"}],"mark":{"type":"circle","color":"#ff0000","size":80,"opacity":1},"encoding":{"x":{"field":"yr","type":"quantitative","scale":{"domain":[2006,2014],"nice":false,"zero":false},"axis":{"values":[2006,2008,2010,2012,2014],"format":"d","title":"Year","titleX":155,"titleY":49,"titleAlign":"center","titleBaseline":"alphabetic"}},"y":{"field":"v","type":"quantitative","scale":{"domain":[-0.5,3],"nice":false,"zero":false},"axis":null}}},
{"transform":[{"filter":"datum.s==='s'"}],"mark":{"type":"line","color":"black","strokeWidth":2.5},"encoding":{"x":{"field":"yr","type":"quantitative","scale":{"domain":[2006,2014],"nice":false,"zero":false},"axis":{"values":[2006,2008,2010,2012,2014],"format":"d","title":"Year","titleX":155,"titleY":49,"titleAlign":"center","titleBaseline":"alphabetic"}},"y":{"field":"v","type":"quantitative","scale":{"domain":[-0.5,3],"nice":false,"zero":false},"axis":null}}},
{"transform":[{"filter":"datum.s==='s'"}],"mark":{"type":"circle","color":"black","size":135,"opacity":1},"encoding":{"x":{"field":"yr","type":"quantitative","scale":{"domain":[2006,2014],"nice":false,"zero":false},"axis":{"values":[2006,2008,2010,2012,2014],"format":"d","title":"Year","titleX":155,"titleY":49,"titleAlign":"center","titleBaseline":"alphabetic"}},"y":{"field":"v","type":"quantitative","scale":{"domain":[-0.5,3],"nice":false,"zero":false},"axis":null}}},
{"mark":{"type":"circle","opacity":0},"encoding":{"x":{"field":"yr","type":"quantitative","scale":{"domain":[2006,2014],"nice":false,"zero":false},"axis":{"values":[2006,2008,2010,2012,2014],"format":"d","title":"Year","titleX":155,"titleY":49,"titleAlign":"center","titleBaseline":"alphabetic"}},"y":{"field":"v","type":"quantitative","scale":{"domain":[-0.5,3],"nice":false,"zero":false},"axis":{"orient":"left","labels":false,"ticks":false,"domain":false,"grid":false,"title":"ΔTopEC","titleColor":"#ff0000","titleX":-58,"titleY":193,"titleAlign":"right","titleAngle":270,"titleBaseline":"middle"}}}}
]},
{"width":312,"height":312,"title":{"text":"IRI - COSMIC","offset":4,"dx":7},"data":{"name":"trend"},"transform":[{"filter":"datum.p==='IC'"}],"resolve":{"axis":{"y":"independent"}},
"layer":[
{"transform":[{"filter":"datum.s==='d'"}],"mark":{"type":"line","color":"#ff0000","strokeWidth":2.5},"encoding":{"x":{"field":"yr","type":"quantitative","scale":{"domain":[2006,2014],"nice":false,"zero":false},"axis":{"values":[2006,2008,2010,2012,2014],"format":"d","title":"Year","titleX":155,"titleY":49,"titleAlign":"center","titleBaseline":"alphabetic"}},"y":{"field":"v","type":"quantitative","scale":{"domain":[-0.5,3],"nice":false,"zero":false},"axis":{"orient":"left","values":[-0.5,0,0.5,1,1.5,2,2.5,3],"format":"~g","labelExpr":"datum.value < 0 ? '-0.5' : datum.label","title":"σTopEC (tecu)","titleX":-58,"titleY":186,"titleAlign":"left","titleAngle":270,"titleBaseline":"middle"}}}},
{"transform":[{"filter":"datum.s==='d'"}],"mark":{"type":"circle","color":"#ff0000","size":80,"opacity":1},"encoding":{"x":{"field":"yr","type":"quantitative","scale":{"domain":[2006,2014],"nice":false,"zero":false},"axis":{"values":[2006,2008,2010,2012,2014],"format":"d","title":"Year","titleX":155,"titleY":49,"titleAlign":"center","titleBaseline":"alphabetic"}},"y":{"field":"v","type":"quantitative","scale":{"domain":[-0.5,3],"nice":false,"zero":false},"axis":null}}},
{"transform":[{"filter":"datum.s==='s'"}],"mark":{"type":"line","color":"black","strokeWidth":2.5},"encoding":{"x":{"field":"yr","type":"quantitative","scale":{"domain":[2006,2014],"nice":false,"zero":false},"axis":{"values":[2006,2008,2010,2012,2014],"format":"d","title":"Year","titleX":155,"titleY":49,"titleAlign":"center","titleBaseline":"alphabetic"}},"y":{"field":"v","type":"quantitative","scale":{"domain":[-0.5,3],"nice":false,"zero":false},"axis":null}}},
{"transform":[{"filter":"datum.s==='s'"}],"mark":{"type":"circle","color":"black","size":135,"opacity":1},"encoding":{"x":{"field":"yr","type":"quantitative","scale":{"domain":[2006,2014],"nice":false,"zero":false},"axis":{"values":[2006,2008,2010,2012,2014],"format":"d","title":"Year","titleX":155,"titleY":49,"titleAlign":"center","titleBaseline":"alphabetic"}},"y":{"field":"v","type":"quantitative","scale":{"domain":[-0.5,3],"nice":false,"zero":false},"axis":null}}},
{"mark":{"type":"circle","opacity":0},"encoding":{"x":{"field":"yr","type":"quantitative","scale":{"domain":[2006,2014],"nice":false,"zero":false},"axis":{"values":[2006,2008,2010,2012,2014],"format":"d","title":"Year","titleX":155,"titleY":49,"titleAlign":"center","titleBaseline":"alphabetic"}},"y":{"field":"v","type":"quantitative","scale":{"domain":[-0.5,3],"nice":false,"zero":false},"axis":{"orient":"left","labels":false,"ticks":false,"domain":false,"grid":false,"title":"ΔTopEC","titleColor":"#ff0000","titleX":-58,"titleY":193,"titleAlign":"right","titleAngle":270,"titleBaseline":"middle"}}}}
]}
],"spacing":125,"bounds":"flush"},
{"hconcat":[
{"width":312,"height":311,"title":{"text":"Low Solar activity","offset":6,"dx":-9},
"layer":[
{"data":{"name":"lowA"},"mark":{"type":"circle","color":"#9a9a9a","size":95,"opacity":1},"encoding":{"x":{"field":"x","type":"quantitative","scale":{"domain":[0,8],"nice":false},"axis":{"values":[0,2,4,6,8],"format":"d","title":"IISR TopEC (tecu)","titleX":149,"titleY":48,"titleAlign":"center","titleBaseline":"alphabetic"}},"y":{"field":"y","type":"quantitative","scale":{"domain":[0,8],"nice":false},"axis":{"values":[0,2,4,6,8],"format":"d","title":"COSMIC\u00a0 TopEC (tecu)","titleX":-58,"titleY":156,"titleAlign":"center","titleAngle":270,"titleBaseline":"middle"}}}},
{"data":{"values":[{"x":0,"y":0},{"x":8,"y":8}]},"mark":{"type":"line","color":"black","strokeWidth":3,"strokeDash":[10,7]},"encoding":{"x":{"field":"x","type":"quantitative","scale":{"domain":[0,8],"nice":false},"axis":{"values":[0,2,4,6,8],"format":"d","title":"IISR TopEC (tecu)","titleX":149,"titleY":48,"titleAlign":"center","titleBaseline":"alphabetic"}},"y":{"field":"y","type":"quantitative","scale":{"domain":[0,8],"nice":false},"axis":{"values":[0,2,4,6,8],"format":"d","title":"COSMIC\u00a0 TopEC (tecu)","titleX":-58,"titleY":156,"titleAlign":"center","titleAngle":270,"titleBaseline":"middle"}}}}
]},
{"width":312,"height":311,"title":{"text":"Low Solar activity","offset":6,"dx":-9},
"layer":[
{"data":{"name":"lowB"},"mark":{"type":"circle","color":"#9a9a9a","size":95,"opacity":1},"encoding":{"x":{"field":"x","type":"quantitative","scale":{"domain":[0,8],"nice":false},"axis":{"values":[0,2,4,6,8],"format":"d","title":"IISR TopEC (tecu)","titleX":149,"titleY":48,"titleAlign":"center","titleBaseline":"alphabetic"}},"y":{"field":"y","type":"quantitative","scale":{"domain":[0,8],"nice":false},"axis":{"values":[0,2,4,6,8],"format":"d","title":"IRI\u00a0 TopEC (tecu)","titleX":-58,"titleY":156,"titleAlign":"center","titleAngle":270,"titleBaseline":"middle"}}}},
{"data":{"values":[{"x":0,"y":0},{"x":8,"y":7.8}]},"mark":{"type":"line","color":"black","strokeWidth":3,"strokeDash":[10,7]},"encoding":{"x":{"field":"x","type":"quantitative","scale":{"domain":[0,8],"nice":false},"axis":{"values":[0,2,4,6,8],"format":"d","title":"IISR TopEC (tecu)","titleX":149,"titleY":48,"titleAlign":"center","titleBaseline":"alphabetic"}},"y":{"field":"y","type":"quantitative","scale":{"domain":[0,8],"nice":false},"axis":{"values":[0,2,4,6,8],"format":"d","title":"IRI\u00a0 TopEC (tecu)","titleX":-58,"titleY":156,"titleAlign":"center","titleAngle":270,"titleBaseline":"middle"}}}}
]},
{"width":312,"height":311,"title":{"text":"Low Solar activity","offset":6,"dx":-9},
"layer":[
{"data":{"name":"lowC"},"mark":{"type":"circle","color":"#9a9a9a","size":125,"opacity":1},"encoding":{"x":{"field":"x","type":"quantitative","scale":{"domain":[0,8],"nice":false},"axis":{"values":[0,2,4,6,8],"format":"d","title":"IRI\u00a0 TopEC (tecu)","titleX":149,"titleY":48,"titleAlign":"center","titleBaseline":"alphabetic"}},"y":{"field":"y","type":"quantitative","scale":{"domain":[0,8],"nice":false},"axis":{"values":[0,2,4,6,8],"format":"d","title":"COSMIC\u00a0 TopEC (tecu)","titleX":-58,"titleY":156,"titleAlign":"center","titleAngle":270,"titleBaseline":"middle"}}}},
{"data":{"values":[{"x":0,"y":0},{"x":8,"y":7.72}]},"mark":{"type":"line","color":"black","strokeWidth":3,"strokeDash":[10,7]},"encoding":{"x":{"field":"x","type":"quantitative","scale":{"domain":[0,8],"nice":false},"axis":{"values":[0,2,4,6,8],"format":"d","title":"IRI\u00a0 TopEC (tecu)","titleX":149,"titleY":48,"titleAlign":"center","titleBaseline":"alphabetic"}},"y":{"field":"y","type":"quantitative","scale":{"domain":[0,8],"nice":false},"axis":{"values":[0,2,4,6,8],"format":"d","title":"COSMIC\u00a0 TopEC (tecu)","titleX":-58,"titleY":156,"titleAlign":"center","titleAngle":270,"titleBaseline":"middle"}}}}
]}
],"spacing":125,"bounds":"flush","title":{"text":"\u00a0","orient":"bottom","fontSize":22,"offset":0,"baseline":"top"}},
{"hconcat":[
{"width":312,"height":311,"title":{"text":"Moderate Solar activity","offset":7,"dx":-31},
"layer":[
{"data":{"name":"modA"},"mark":{"type":"circle","color":"#9a9a9a","size":95,"opacity":1},"encoding":{"x":{"field":"x","type":"quantitative","scale":{"domain":[0,16],"nice":false},"axis":{"values":[0,2,4,6,8,10,12,14,16],"format":"d","title":"IISR TopEC (tecu)","titleX":149,"titleY":47,"titleAlign":"center","titleBaseline":"alphabetic"}},"y":{"field":"y","type":"quantitative","scale":{"domain":[0,16],"nice":false},"axis":{"values":[0,2,4,6,8,10,12,14,16],"format":"d","title":"COSMIC\u00a0 TopEC (tecu)","titleX":-58,"titleY":156,"titleAlign":"center","titleAngle":270,"titleBaseline":"middle"}}}},
{"data":{"values":[{"x":0,"y":0.5},{"x":15.5,"y":16}]},"mark":{"type":"line","color":"black","strokeWidth":3,"strokeDash":[10,7]},"encoding":{"x":{"field":"x","type":"quantitative","scale":{"domain":[0,16],"nice":false},"axis":{"values":[0,2,4,6,8,10,12,14,16],"format":"d","title":"IISR TopEC (tecu)","titleX":149,"titleY":47,"titleAlign":"center","titleBaseline":"alphabetic"}},"y":{"field":"y","type":"quantitative","scale":{"domain":[0,16],"nice":false},"axis":{"values":[0,2,4,6,8,10,12,14,16],"format":"d","title":"COSMIC\u00a0 TopEC (tecu)","titleX":-58,"titleY":156,"titleAlign":"center","titleAngle":270,"titleBaseline":"middle"}}}}
]},
{"width":312,"height":311,"title":{"text":"Moderate Solar activity","offset":7,"dx":-31},
"layer":[
{"data":{"name":"modB"},"mark":{"type":"circle","color":"#9a9a9a","size":95,"opacity":1},"encoding":{"x":{"field":"x","type":"quantitative","scale":{"domain":[0,16],"nice":false},"axis":{"values":[0,2,4,6,8,10,12,14,16],"format":"d","title":"IISR TopEC (tecu)","titleX":149,"titleY":47,"titleAlign":"center","titleBaseline":"alphabetic"}},"y":{"field":"y","type":"quantitative","scale":{"domain":[0,16],"nice":false},"axis":{"values":[0,2,4,6,8,10,12,14,16],"format":"d","title":"IRI\u00a0 TopEC (tecu)","titleX":-58,"titleY":156,"titleAlign":"center","titleAngle":270,"titleBaseline":"middle"}}}},
{"data":{"values":[{"x":0,"y":0},{"x":16,"y":16}]},"mark":{"type":"line","color":"black","strokeWidth":3,"strokeDash":[10,7]},"encoding":{"x":{"field":"x","type":"quantitative","scale":{"domain":[0,16],"nice":false},"axis":{"values":[0,2,4,6,8,10,12,14,16],"format":"d","title":"IISR TopEC (tecu)","titleX":149,"titleY":47,"titleAlign":"center","titleBaseline":"alphabetic"}},"y":{"field":"y","type":"quantitative","scale":{"domain":[0,16],"nice":false},"axis":{"values":[0,2,4,6,8,10,12,14,16],"format":"d","title":"IRI\u00a0 TopEC (tecu)","titleX":-58,"titleY":156,"titleAlign":"center","titleAngle":270,"titleBaseline":"middle"}}}}
]},
{"width":312,"height":311,"title":{"text":"Moderate Solar activity","offset":7,"dx":-31},
"layer":[
{"data":{"name":"modC"},"mark":{"type":"circle","color":"#9a9a9a","size":125,"opacity":1},"encoding":{"x":{"field":"x","type":"quantitative","scale":{"domain":[0,16],"nice":false},"axis":{"values":[0,2,4,6,8,10,12,14,16],"format":"d","title":"IRI\u00a0 TopEC (tecu)","titleX":149,"titleY":47,"titleAlign":"center","titleBaseline":"alphabetic"}},"y":{"field":"y","type":"quantitative","scale":{"domain":[0,16],"nice":false},"axis":{"values":[0,2,4,6,8,10,12,14,16],"format":"d","title":"COSMIC\u00a0 TopEC (tecu)","titleX":-58,"titleY":156,"titleAlign":"center","titleAngle":270,"titleBaseline":"middle"}}}},
{"data":{"values":[{"x":0,"y":0},{"x":16,"y":16}]},"mark":{"type":"line","color":"black","strokeWidth":3,"strokeDash":[10,7]},"encoding":{"x":{"field":"x","type":"quantitative","scale":{"domain":[0,16],"nice":false},"axis":{"values":[0,2,4,6,8,10,12,14,16],"format":"d","title":"IRI\u00a0 TopEC (tecu)","titleX":149,"titleY":47,"titleAlign":"center","titleBaseline":"alphabetic"}},"y":{"field":"y","type":"quantitative","scale":{"domain":[0,16],"nice":false},"axis":{"values":[0,2,4,6,8,10,12,14,16],"format":"d","title":"COSMIC\u00a0 TopEC (tecu)","titleX":-58,"titleY":156,"titleAlign":"center","titleAngle":270,"titleBaseline":"middle"}}}}
]}
],"spacing":125,"bounds":"flush"}
]
}
